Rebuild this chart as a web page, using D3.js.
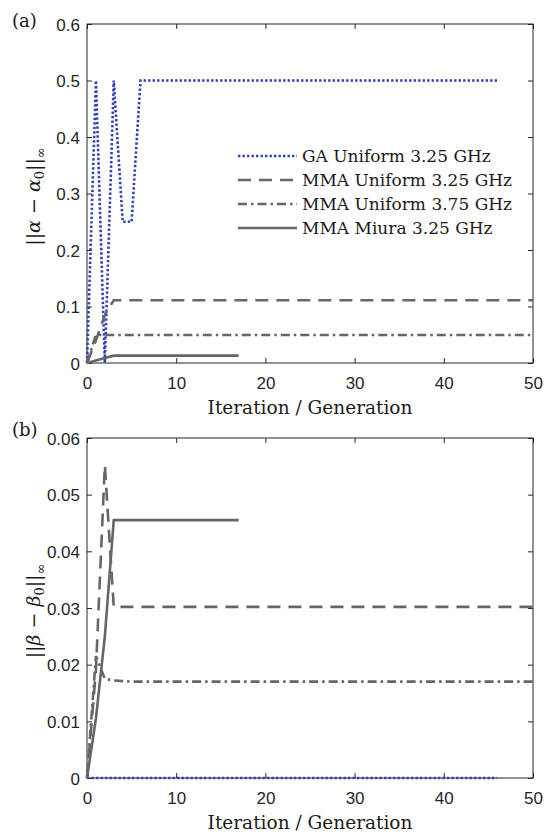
<!DOCTYPE html>
<html>
<head>
<meta charset="utf-8">
<script src="https://cdn.jsdelivr.net/npm/d3@7"></script>
<style>
  html, body { margin: 0; padding: 0; background: #fff; }
  svg { display: block; }
  .tick text { font-family: "Liberation Sans", Arial, sans-serif; font-size: 17px; fill: #262626; }
  .tick line { stroke: #262626; stroke-width: 1; }
  .serif { font-family: "DejaVu Serif", serif; fill: #1a1a1a; }
</style>
</head>
<body>
<svg id="chart" width="553" height="837"></svg>
<script>
// ---- data ----------------------------------------------------------
const seriesNames = ["GA Uniform 3.25 GHz", "MMA Uniform 3.25 GHz", "MMA Uniform 3.75 GHz", "MMA Miura 3.25 GHz"];

// panel (a): ||alpha - alpha0||_inf per iteration / generation (index = iteration)
const gaAlpha = [0, 0.5, 0, 0.5, 0.25, 0.25,
  0.5, 0.5, 0.5, 0.5, 0.5, 0.5, 0.5, 0.5, 0.5, 0.5, 0.5, 0.5, 0.5, 0.5, 0.5,
  0.5, 0.5, 0.5, 0.5, 0.5, 0.5, 0.5, 0.5, 0.5, 0.5, 0.5, 0.5, 0.5, 0.5, 0.5,
  0.5, 0.5, 0.5, 0.5, 0.5, 0.5, 0.5, 0.5, 0.5, 0.5, 0.5];
const mma325Alpha = [0, 0.04, 0.085, 0.111,
  0.111, 0.111, 0.111, 0.111, 0.111, 0.111, 0.111, 0.111, 0.111, 0.111, 0.111, 0.111,
  0.111, 0.111, 0.111, 0.111, 0.111, 0.111, 0.111, 0.111, 0.111, 0.111, 0.111, 0.111,
  0.111, 0.111, 0.111, 0.111, 0.111, 0.111, 0.111, 0.111, 0.111, 0.111, 0.111, 0.111,
  0.111, 0.111, 0.111, 0.111, 0.111, 0.111, 0.111, 0.111, 0.111, 0.111, 0.111];
const mma375Alpha = [0, 0.05,
  0.0495, 0.0495, 0.0495, 0.0495, 0.0495, 0.0495, 0.0495, 0.0495, 0.0495, 0.0495, 0.0495,
  0.0495, 0.0495, 0.0495, 0.0495, 0.0495, 0.0495, 0.0495, 0.0495, 0.0495, 0.0495, 0.0495,
  0.0495, 0.0495, 0.0495, 0.0495, 0.0495, 0.0495, 0.0495, 0.0495, 0.0495, 0.0495, 0.0495,
  0.0495, 0.0495, 0.0495, 0.0495, 0.0495, 0.0495, 0.0495, 0.0495, 0.0495, 0.0495, 0.0495,
  0.0495, 0.0495, 0.0495, 0.0495, 0.0495];
const miuraAlpha = [0, 0.0045, 0.009, 0.013,
  0.013, 0.013, 0.013, 0.013, 0.013, 0.013, 0.013, 0.013, 0.013, 0.013, 0.013,
  0.013, 0.013, 0.013];

// panel (b): ||beta - beta0||_inf per iteration / generation
const gaBeta = [0, 0, 0, 0, 0, 0, 0, 0, 0, 0, 0, 0, 0, 0, 0, 0, 0, 0, 0, 0, 0, 0, 0, 0,
  0, 0, 0, 0, 0, 0, 0, 0, 0, 0, 0, 0, 0, 0, 0, 0, 0, 0, 0, 0, 0, 0, 0];
const mma325Beta = [0, 0.019, 0.0552, 0.0302,
  0.0302, 0.0302, 0.0302, 0.0302, 0.0302, 0.0302, 0.0302, 0.0302, 0.0302, 0.0302, 0.0302,
  0.0302, 0.0302, 0.0302, 0.0302, 0.0302, 0.0302, 0.0302, 0.0302, 0.0302, 0.0302, 0.0302,
  0.0302, 0.0302, 0.0302, 0.0302, 0.0302, 0.0302, 0.0302, 0.0302, 0.0302, 0.0302, 0.0302,
  0.0302, 0.0302, 0.0302, 0.0302, 0.0302, 0.0302, 0.0302, 0.0302, 0.0302, 0.0302, 0.0302,
  0.0302, 0.0302, 0.0302];
const mma375Beta = [0, 0.0215, 0.0175, 0.0172, 0.0171,
  0.017, 0.017, 0.017, 0.017, 0.017, 0.017, 0.017, 0.017, 0.017, 0.017, 0.017, 0.017,
  0.017, 0.017, 0.017, 0.017, 0.017, 0.017, 0.017, 0.017, 0.017, 0.017, 0.017, 0.017,
  0.017, 0.017, 0.017, 0.017, 0.017, 0.017, 0.017, 0.017, 0.017, 0.017, 0.017, 0.017,
  0.017, 0.017, 0.017, 0.017, 0.017, 0.017, 0.017, 0.017, 0.017, 0.017];
const miuraBeta = [0, 0.0105, 0.025, 0.0455,
  0.0455, 0.0455, 0.0455, 0.0455, 0.0455, 0.0455, 0.0455, 0.0455, 0.0455, 0.0455, 0.0455,
  0.0455, 0.0455, 0.0455];

// axis ticks
const xTicks = [0, 10, 20, 30, 40, 50];
const alphaTicks = [0, 0.1, 0.2, 0.3, 0.4, 0.5, 0.6];
const alphaTickLabels = ["0", "0.1", "0.2", "0.3", "0.4", "0.5", "0.6"];
const betaTicks = [0, 0.01, 0.02, 0.03, 0.04, 0.05, 0.06];
const betaTickLabels = ["0", "0.01", "0.02", "0.03", "0.04", "0.05", "0.06"];

// ---- styles ----------------------------------------------------------
const styles = [
  { color: "#3140b4", width: 2.6, dash: "2.4,2.1" },
  { color: "#666666", width: 2.6, dash: "13,8" },
  { color: "#666666", width: 2.6, dash: "9,4,2.5,4" },
  { color: "#666666", width: 2.6, dash: null }
];

const svg = d3.select("#chart");

function drawPanel(opts) {
  const { top, bottom, left, right, yMax, yTicks, yLabels, series, tag, yLabel } = opts;
  const x = d3.scaleLinear().domain([0, 50]).range([left, right]);
  const y = d3.scaleLinear().domain([0, yMax]).range([bottom, top]);
  const g = svg.append("g");

  // axes with inward ticks, mirrored on top/right
  const axB = g.append("g").attr("transform", `translate(0,${bottom})`)
    .call(d3.axisBottom(x).tickValues(xTicks).tickFormat(d3.format("d"))
      .tickSizeInner(-5).tickSizeOuter(0).tickPadding(14));
  const axT = g.append("g").attr("transform", `translate(0,${top})`)
    .call(d3.axisTop(x).tickValues(xTicks).tickFormat("").tickSizeInner(-5).tickSizeOuter(0));
  const axL = g.append("g").attr("transform", `translate(${left},0)`)
    .call(d3.axisLeft(y).tickValues(yTicks).tickFormat((d, i) => yLabels[i])
      .tickSizeInner(-5).tickSizeOuter(0).tickPadding(7));
  const axR = g.append("g").attr("transform", `translate(${right},0)`)
    .call(d3.axisRight(y).tickValues(yTicks).tickFormat("").tickSizeInner(-5).tickSizeOuter(0));
  [axB, axT, axL, axR].forEach(a => a.select(".domain").remove());
  axL.selectAll(".tick text").attr("dy", "0.36em");

  // frame
  g.append("rect").attr("x", left).attr("y", top)
    .attr("width", right - left).attr("height", bottom - top)
    .attr("fill", "none").attr("stroke", "#262626").attr("stroke-width", 1);

  // series lines
  const line = d3.line().x((d, i) => x(i)).y(d => y(d));
  series.forEach((vals, k) => {
    const s = styles[k];
    g.append("path").datum(vals)
      .attr("d", line)
      .attr("fill", "none")
      .attr("stroke", s.color)
      .attr("stroke-width", s.width)
      .attr("stroke-dasharray", s.dash)
      .attr("stroke-linejoin", "miter");
  });

  // x-axis title
  g.append("text").attr("class", "serif")
    .attr("x", (left + right) / 2).attr("y", bottom + 51)
    .attr("text-anchor", "middle").attr("font-size", 18.5)
    .text("Iteration / Generation");

  // y-axis title (rotated)
  const yl = g.append("text").attr("class", "serif")
    .attr("transform", `translate(40,${(top + bottom) / 2 + 3}) rotate(-90)`)
    .attr("text-anchor", "middle").attr("font-size", 19);
  yl.append("tspan").text("||");
  yl.append("tspan").attr("font-style", "italic").text(yLabel);
  yl.append("tspan").text(" − ");
  yl.append("tspan").attr("font-style", "italic").text(yLabel);
  yl.append("tspan").attr("font-size", 13).attr("dy", 4).text("0");
  yl.append("tspan").attr("dy", -4).text("||");
  yl.append("tspan").attr("font-size", 13).attr("dy", 5).text("∞");

  // panel tag
  g.append("text").attr("class", "serif")
    .attr("x", 12).attr("y", tag.y).attr("font-size", 18).text(tag.text);

  return { x, y, g };
}

drawPanel({
  top: 24, bottom: 363, left: 87, right: 533,
  yMax: 0.6, yTicks: alphaTicks, yLabels: alphaTickLabels,
  series: [gaAlpha, mma325Alpha, mma375Alpha, miuraAlpha],
  tag: { text: "(a)", y: 27 }, yLabel: "α"
});

drawPanel({
  top: 438, bottom: 778, left: 87, right: 533,
  yMax: 0.06, yTicks: betaTicks, yLabels: betaTickLabels,
  series: [gaBeta, mma325Beta, mma375Beta, miuraBeta],
  tag: { text: "(b)", y: 436 }, yLabel: "β"
});

// legend (panel a)
const legend = svg.append("g");
const legendRows = [156, 180, 204, 228];
seriesNames.forEach((name, k) => {
  const s = styles[k];
  legend.append("line")
    .attr("x1", 238).attr("x2", 297)
    .attr("y1", legendRows[k]).attr("y2", legendRows[k])
    .attr("stroke", s.color).attr("stroke-width", s.width)
    .attr("stroke-dasharray", s.dash);
  legend.append("text").attr("class", "serif")
    .attr("x", 302).attr("y", legendRows[k] + 6)
    .attr("font-size", 17)
    .text(name);
});
</script>
</body>
</html>
